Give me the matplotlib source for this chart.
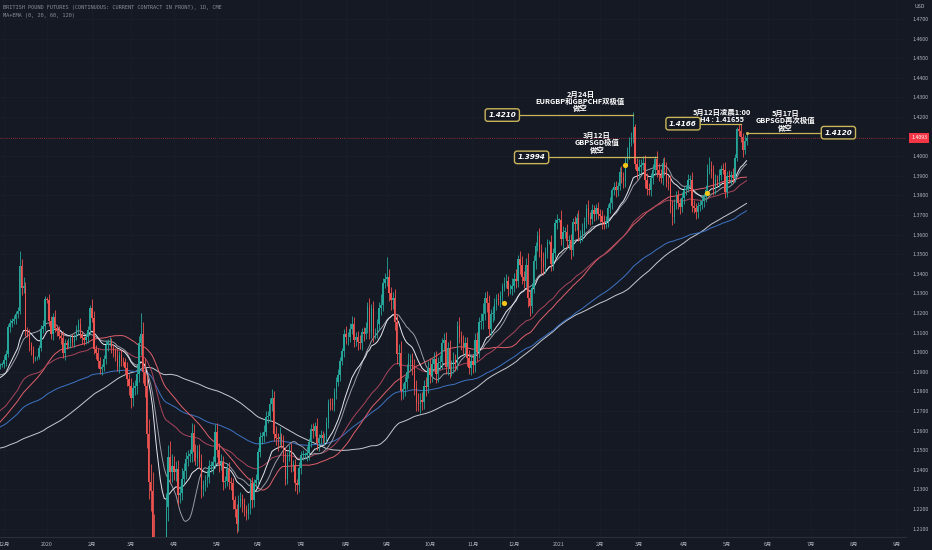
import numpy as np
import pandas as pd
import matplotlib
matplotlib.use('Agg')
import matplotlib.pyplot as plt

plt.rcParams['font.family'] = ['Noto Sans CJK SC', 'DejaVu Sans']

# ---- data ----
# closes before the first visible bar (Jun-Nov 2019), only used to seed the averages
prior_close = [
    1.272, 1.270, 1.272, 1.270, 1.265, 1.260, 1.257, 1.262, 1.273, 1.275, 1.274, 1.271, 1.270, 1.272, 1.276,
    1.265, 1.262, 1.260, 1.257, 1.253, 1.249, 1.252, 1.252, 1.256, 1.253, 1.244, 1.245, 1.250, 1.249, 1.247,
    1.247, 1.249, 1.241, 1.234, 1.219, 1.218, 1.217, 1.214,
    1.218, 1.212, 1.214, 1.217, 1.216, 1.209, 1.204, 1.207, 1.209, 1.211, 1.217, 1.216, 1.215, 1.220, 1.227,
    1.223, 1.227, 1.222, 1.226, 1.223, 1.221, 1.218,
    1.218, 1.210, 1.212, 1.224, 1.232, 1.236, 1.238, 1.238, 1.241, 1.246, 1.244, 1.245, 1.252, 1.252, 1.248,
    1.247, 1.246, 1.239, 1.236, 1.234, 1.236, 1.232,
    1.230, 1.234, 1.238, 1.234, 1.227, 1.230, 1.230, 1.234, 1.248, 1.268, 1.262, 1.266, 1.287, 1.290, 1.292,
    1.288, 1.294, 1.293, 1.294, 1.290, 1.296,
    1.292, 1.288, 1.289, 1.293, 1.287, 1.285, 1.282, 1.283, 1.281, 1.287, 1.283, 1.290, 1.292, 1.293, 1.289,
    1.291, 1.290, 1.292, 1.289,
]

first_open = 1.2930
start_date = '2019-11-28'

close_prices = [
    # Nov 2019
    1.2935, 1.2940,
    # Dec 2019
    1.2960, 1.2990, 1.3130, 1.3150, 1.3160, 1.3170, 1.3195, 1.3210, 1.3440, 1.3330, 1.3340,
    1.3110, 1.3095, 1.3035, 1.3010, 1.2965, 1.2970, 1.2975, 1.3020, 1.3120, 1.3135, 1.3270,
    # Jan 2020
    1.3265, 1.3160, 1.3095, 1.3180, 1.3125, 1.3110, 1.3085, 1.3070, 1.2995, 1.3045, 1.3035, 1.3045,
    1.3070, 1.3050, 1.3080, 1.3120, 1.3145, 1.3090, 1.3070, 1.3060, 1.3075, 1.3115, 1.3225,
    # Feb 2020
    1.3175, 1.3015, 1.2995, 1.2955, 1.2915, 1.2925, 1.2965, 1.3035, 1.3050, 1.3050,
    1.3020, 1.3005, 1.2980, 1.2925, 1.2985, 1.2955, 1.2950, 1.2920, 1.2865, 1.2830,
    # Mar 2020
    1.2765, 1.2815, 1.2830, 1.2890, 1.3045, 1.3095, 1.2900, 1.2830, 1.2580, 1.2340, 1.2290,
    1.2055, 1.1660, 1.1530, 1.1630, 1.1530, 1.1750, 1.1900, 1.2210, 1.2465, 1.2390, 1.2420,
    # Apr 2020
    1.2390, 1.2405, 1.2270, 1.2280, 1.2355, 1.2395, 1.2455, 1.2470, 1.2480, 1.2590, 1.2490,
    1.2460, 1.2495, 1.2440, 1.2300, 1.2320, 1.2350, 1.2365, 1.2420, 1.2420, 1.2440, 1.2595,
    # May 2020
    1.2500, 1.2430, 1.2440, 1.2340, 1.2345, 1.2405, 1.2340, 1.2330, 1.2245, 1.2200, 1.2125,
    1.2240, 1.2250, 1.2225, 1.2200, 1.2175, 1.2205, 1.2330, 1.2245, 1.2330, 1.2350,
    # Jun 2020
    1.2490, 1.2565, 1.2570, 1.2595, 1.2670, 1.2675, 1.2735, 1.2765, 1.2585, 1.2560, 1.2555,
    1.2565, 1.2545, 1.2480, 1.2355, 1.2470, 1.2495, 1.2425, 1.2425, 1.2330, 1.2320, 1.2410,
    # Jul 2020
    1.2475, 1.2475, 1.2475, 1.2485, 1.2540, 1.2610, 1.2600, 1.2625, 1.2535, 1.2560, 1.2575, 1.2560,
    1.2570, 1.2640, 1.2740, 1.2735, 1.2730, 1.2795, 1.2850, 1.2885, 1.2955, 1.3005, 1.3095,
    # Aug 2020
    1.3075, 1.3080, 1.3120, 1.3145, 1.3060, 1.3080, 1.3050, 1.3045, 1.3105, 1.3095, 1.3125,
    1.3230, 1.3105, 1.3225, 1.3095, 1.3095, 1.3145, 1.3225, 1.3240, 1.3355, 1.3375,
    # Sep 2020
    1.3385, 1.3300, 1.3265, 1.3275, 1.3155, 1.2990, 1.2995, 1.2800, 1.2810, 1.2850, 1.2900,
    1.2950, 1.2960, 1.2925, 1.2815, 1.2740, 1.2735, 1.2755, 1.2745, 1.2830, 1.2820, 1.2920,
    # Oct 2020
    1.2885, 1.2940, 1.2965, 1.2890, 1.2945, 1.2950, 1.3045, 1.3060, 1.2925, 1.3020, 1.2915,
    1.2925, 1.2960, 1.2945, 1.3135, 1.3075, 1.3050, 1.3025, 1.3045, 1.2970, 1.2920, 1.2955,
    # Nov 2020
    1.2935, 1.3060, 1.3000, 1.3155, 1.3160, 1.3195, 1.3275, 1.3250, 1.3120, 1.3195, 1.3200,
    1.3245, 1.3270, 1.3265, 1.3285, 1.3335, 1.3355, 1.3365, 1.3320, 1.3320, 1.3340,
    # Dec 2020
    1.3375, 1.3365, 1.3475, 1.3445, 1.3385, 1.3365, 1.3445, 1.3275, 1.3235, 1.3330, 1.3465, 1.3540,
    1.3595, 1.3520, 1.3465, 1.3435, 1.3505, 1.3560, 1.3560, 1.3450, 1.3505, 1.3660, 1.3675,
    # Jan 2021
    1.3675, 1.3575, 1.3615, 1.3615, 1.3565, 1.3570, 1.3520, 1.3665, 1.3655, 1.3685, 1.3590,
    1.3595, 1.3625, 1.3665, 1.3735, 1.3690, 1.3680, 1.3725, 1.3705, 1.3735, 1.3705,
    # Feb 2021
    1.3695, 1.3665, 1.3660, 1.3670, 1.3735, 1.3760, 1.3825, 1.3845, 1.3825, 1.3850,
    1.3920, 1.3895, 1.3875, 1.3975, 1.4015, 1.4075, 1.4095, 1.4150, 1.3960, 1.3925,
    # Mar 2021
    1.3945, 1.3955, 1.3965, 1.3880, 1.3835, 1.3830, 1.3890, 1.3930, 1.3985, 1.3930, 1.3905, 1.3890,
    1.3965, 1.3935, 1.3870, 1.3860, 1.3745, 1.3690, 1.3755, 1.3800, 1.3760, 1.3740, 1.3785,
    # Apr 2021
    1.3825, 1.3835, 1.3880, 1.3880, 1.3745, 1.3735, 1.3715, 1.3745, 1.3750, 1.3770, 1.3790,
    1.3830, 1.3935, 1.3935, 1.3920, 1.3835, 1.3880, 1.3875, 1.3905, 1.3935, 1.3930, 1.3815,
    # May 2021
    1.3900, 1.3895, 1.3905, 1.3890, 1.3990, 1.4140, 1.4130, 1.4100, 1.4030, 1.4080, 1.4093,
]

# upper / lower wick length in pips
wick_up = [
    10, 12,
    25, 20, 15, 18, 12, 20, 15, 22, 75, 35, 45, 20, 18, 25, 15, 20, 8, 6, 15, 20, 30, 15,
    10, 30, 25, 20, 35, 15, 22, 18, 40, 20, 15, 25, 18, 22, 15, 20, 25, 30, 18, 15, 22, 20, 15,
    45, 35, 20, 25, 18, 15, 20, 25, 18, 30, 20, 22, 18, 35, 20, 25, 18, 22, 30, 25,
    40, 35, 30, 45, 40, 105, 60, 70, 60, 80, 90, 100, 120, 150, 110, 140, 100, 90, 70, 60, 80, 60,
    50, 40, 45, 35, 55, 40, 35, 30, 25, 50, 45, 40, 30, 35, 40, 30, 25, 35, 30, 25, 30, 40,
    45, 35, 40, 30, 25, 30, 35, 25, 30, 20, 25, 30, 35, 25, 30, 20, 25, 30, 35, 25, 30,
    20, 30, 25, 35, 30, 25, 30, 45, 35, 40, 30, 55, 25, 30, 35, 20, 30, 40, 25, 30, 25, 30,
    20, 25, 15, 35, 20, 25, 30, 20, 40, 25, 30, 25, 20, 30, 20, 25, 30, 20, 25, 30, 20, 15, 25,
    40, 25, 30, 40, 35, 25, 30, 40, 20, 25, 30, 25, 45, 20, 35, 30, 25, 30, 55, 25, 30,
    100, 40, 35, 30, 45, 40, 45, 60, 35, 30, 40, 45, 30, 35, 40, 45, 50, 35, 40, 30, 45, 35,
    50, 30, 35, 40, 30, 35, 25, 40, 45, 30, 40, 35, 40, 30, 25, 45, 35, 40, 30, 35, 40, 30,
    35, 40, 45, 25, 40, 55, 30, 35, 40, 25, 35, 30, 25, 30, 25, 20, 30, 35, 25, 30, 40,
    30, 50, 20, 40, 45, 30, 35, 60, 40, 25, 30, 20, 25, 40, 30, 45, 30, 20, 10, 40, 25, 20, 30,
    10, 50, 30, 25, 40, 30, 35, 20, 30, 25, 40, 30, 35, 25, 20, 40, 25, 30, 25, 20, 30,
    25, 30, 35, 25, 20, 30, 15, 25, 30, 20, 25, 30, 25, 20, 30, 25, 30, 75, 15, 30,
    40, 30, 35, 40, 35, 30, 25, 30, 15, 40, 35, 30, 25, 30, 35, 30, 45, 30, 25, 20, 30, 25, 30,
    25, 20, 30, 25, 40, 30, 25, 20, 25, 30, 20, 25, 25, 60, 40, 35, 30, 25, 30, 20, 30, 40,
    25, 30, 20, 35, 20, 10, 26, 36, 20, 30, 27,
]
wick_dn = [
    15, 10,
    20, 30, 15, 25, 20, 18, 25, 20, 15, 40, 30, 25, 20, 30, 25, 20, 10, 8, 12, 15, 20, 25,
    15, 25, 30, 35, 20, 25, 20, 30, 25, 35, 20, 15, 25, 20, 22, 18, 25, 20, 30, 25, 20, 30, 20,
    20, 25, 30, 35, 25, 30, 20, 25, 30, 20, 25, 30, 25, 20, 30, 25, 20, 30, 35, 50,
    50, 40, 35, 45, 40, 60, 55, 60, 70, 90, 100, 110, 180, 120, 150, 100, 90, 80, 100, 70, 60, 50,
    40, 45, 50, 40, 35, 30, 40, 35, 30, 40, 45, 35, 40, 30, 45, 35, 30, 40, 35, 30, 40, 30,
    35, 40, 30, 45, 35, 30, 40, 35, 45, 40, 50, 35, 30, 40, 35, 30, 25, 30, 40, 35, 25,
    30, 25, 35, 30, 25, 30, 25, 35, 40, 35, 60, 30, 35, 40, 35, 30, 25, 35, 30, 40, 45, 35,
    30, 25, 20, 30, 35, 25, 40, 30, 35, 40, 30, 25, 35, 30, 25, 30, 25, 30, 35, 25, 30, 20, 30,
    35, 40, 30, 25, 35, 30, 40, 30, 35, 40, 30, 25, 40, 35, 45, 30, 25, 30, 35, 30, 25,
    35, 40, 50, 45, 40, 50, 60, 45, 40, 35, 40, 30, 45, 40, 35, 40, 35, 45, 40, 35, 45, 30,
    40, 35, 30, 45, 40, 30, 35, 40, 35, 40, 45, 35, 30, 40, 35, 30, 40, 35, 45, 40, 30, 35,
    40, 35, 45, 30, 35, 40, 30, 45, 35, 30, 40, 35, 30, 25, 35, 30, 25, 30, 35, 25, 30,
    35, 40, 30, 45, 35, 40, 30, 45, 50, 35, 30, 40, 25, 35, 60, 40, 30, 25, 10, 35, 30, 25, 30,
    10, 30, 45, 30, 35, 40, 45, 30, 35, 30, 25, 35, 30, 25, 30, 35, 30, 25, 35, 30, 25,
    30, 35, 30, 25, 30, 25, 30, 25, 35, 30, 25, 30, 35, 30, 25, 30, 25, 30, 25, 40,
    35, 30, 25, 40, 35, 30, 35, 30, 25, 35, 30, 25, 35, 30, 25, 30, 35, 40, 30, 25, 30, 35, 25,
    30, 25, 20, 35, 30, 25, 35, 30, 25, 20, 30, 25, 20, 25, 30, 35, 30, 25, 30, 25, 20, 30,
    25, 30, 35, 25, 20, 15, 25, 30, 35, 20, 25,
]

# annotations: horizontal levels, the bar they point to, the yellow signal dots
level_values = [1.4210, 1.3994, 1.4166, 1.4120]
level_labels = ['1.4210', '1.3994', '1.4166', '1.4120']
level_dates = ['2021-02-24', '2021-03-12', '2021-05-12', '2021-05-17']
note_texts = [
    '2月24日\nEURGBP和GBPCHF双极值\n做空',
    '3月12日\nGBPSGD极值\n做空',
    '5月12日凌晨1:00\nH4 : 1.41655',
    '5月17日\nGBPSGD再次极值\n做空',
]
dot_dates = ['2020-11-24', '2021-02-18', '2021-04-19']
dot_prices = [1.3250, 1.3955, 1.3812]
last_price = 1.4093

ma_periods = [20, 60, 120]

# ---- build series ----
assert len(close_prices) == len(wick_up) == len(wick_dn)
closes = np.array(close_prices)
opens = np.concatenate([[first_open], closes[:-1]])
highs = np.maximum(opens, closes) + np.array(wick_up) / 1e4
lows = np.minimum(opens, closes) - np.array(wick_dn) / 1e4

n_prior = len(prior_close)
allc = pd.Series(prior_close + close_prices)
sma = {p: allc.rolling(p).mean().values[n_prior:] for p in ma_periods}
ema = {p: allc.ewm(span=p, adjust=False).mean().values[n_prior:] for p in ma_periods}

dates = pd.bdate_range(start_date, periods=470)
pos = {d.strftime('%Y-%m-%d'): i for i, d in enumerate(dates)}
idx = np.arange(len(closes))

BG = '#151924'
GOLD = '#c9b55a'
TXT = '#b2b5be'

fig = plt.figure(figsize=(9.32, 5.5), dpi=100, facecolor=BG)
ax = fig.add_axes([0, 13 / 550, 906 / 932, 537 / 550], facecolor=BG)

# moving averages
ax.plot(idx, sma[120], color='#c8cad2', lw=0.7, zorder=2)
ax.plot(idx, ema[120], color='#3d74c4', lw=0.7, zorder=2)
ax.plot(idx, sma[60], color='#e0606a', lw=0.7, zorder=2)
ax.plot(idx, ema[60], color='#a8455a', lw=0.7, zorder=2)
ax.plot(idx, sma[20], color='#9a9ca6', lw=0.7, zorder=2)
ax.plot(idx, ema[20], color='#e6e8ee', lw=0.7, zorder=2)

# candles
up = closes >= opens
col = np.where(up, '#26a69a', '#ef5350')
ax.vlines(idx, lows, highs, colors=col, lw=0.6, zorder=3)
body = np.maximum(np.abs(closes - opens), 0.0003)
ax.bar(idx, body, bottom=np.minimum(opens, closes), width=0.7, color=col, lw=0, zorder=3)

# signal dots
ax.scatter([pos[d] for d in dot_dates], dot_prices, s=14, color='#f5c518', zorder=5, lw=0)

# level lines with boxed labels and notes
box_x = [257, 272, 349.5, 429]
line_end = [pos[d] for d in level_dates]
note_x = [297, 305.5, 369.5, 402]
note_y = [1.4280, 1.4067, 1.4205, 1.4180]
for k in range(4):
    v = level_values[k]
    if k < 3:
        ax.plot([box_x[k], line_end[k]], [v, v], color=GOLD, lw=0.9, zorder=4)
    else:
        ax.plot([line_end[k], box_x[k]], [v, v], color=GOLD, lw=0.9, zorder=4)
        ax.scatter([line_end[k]], [v], s=5, color=GOLD, zorder=5, lw=0)
    ax.text(box_x[k], v, level_labels[k], ha='center', va='center', fontsize=5.2,
            color='white', weight='bold', style='italic', family='DejaVu Sans', zorder=6,
            bbox=dict(boxstyle='round,pad=0.45,rounding_size=0.35', fc=BG, ec=GOLD, lw=1))
    ax.text(note_x[k], note_y[k], note_texts[k], ha='center', va='center', fontsize=5.3,
            color='white', weight='bold', style='italic', linespacing=0.95, zorder=6)

# last price line + tag (the tag covers the 1.4100 scale label, as on the chart)
ax.axhline(last_price, color='#f23645', lw=0.6, ls=(0, (1, 1.5)), alpha=0.7, zorder=1)
ax.annotate(f'{last_price:.4f}', xy=(1.0, last_price), xycoords=('axes fraction', 'data'),
            xytext=(9.4, 0), textcoords='offset points', ha='center', va='center',
            fontsize=3.8, color='white', annotation_clip=False,
            bbox=dict(boxstyle='square,pad=0.4', fc='#f23645', ec='none'))

# axes
ax.set_xlim(-0.047, 463.6)
ax.set_ylim(1.2057, 1.4797)
ax.yaxis.tick_right()
yt = np.arange(1.21, 1.4701, 0.01)
ax.set_yticks(yt)
ax.set_yticklabels(['' if abs(v - last_price) < 0.005 else f'{v:.4f}' for v in yt])

month_starts = [i for i in range(1, len(dates)) if dates[i].month != dates[i - 1].month]
xlabels = [str(dates[i].year) if dates[i].month == 1 else f'{dates[i].month}月' for i in month_starts]
ax.set_xticks(month_starts)
ax.set_xticklabels(xlabels)
ax.tick_params(axis='both', length=0, labelsize=3.8, colors=TXT)
ax.tick_params(axis='y', pad=5)
ax.tick_params(axis='x', pad=3.5)
ax.grid(color='#1b1f2a', lw=0.5)
for s in ['top', 'left', 'right']:
    ax.spines[s].set_visible(False)
ax.spines['bottom'].set_color('#2a2e39')
ax.spines['bottom'].set_linewidth(0.8)

fig.text(920 / 932, 1 - 7 / 550, 'USD', ha='center', va='center', fontsize=3.8, color=TXT)
fig.text(3 / 932, 1 - 8 / 550,
         'BRITISH POUND FUTURES (CONTINUOUS: CURRENT CONTRACT IN FRONT), 1D, CME',
         ha='left', va='center', fontsize=3.75, color='#8a8d96', family='DejaVu Sans Mono')
fig.text(3 / 932, 1 - 16 / 550, 'MA+EMA (0, 20, 60, 120)',
         ha='left', va='center', fontsize=3.75, color='#8a8d96', family='DejaVu Sans Mono')

fig.savefig('out.png', dpi=100, facecolor=BG)
